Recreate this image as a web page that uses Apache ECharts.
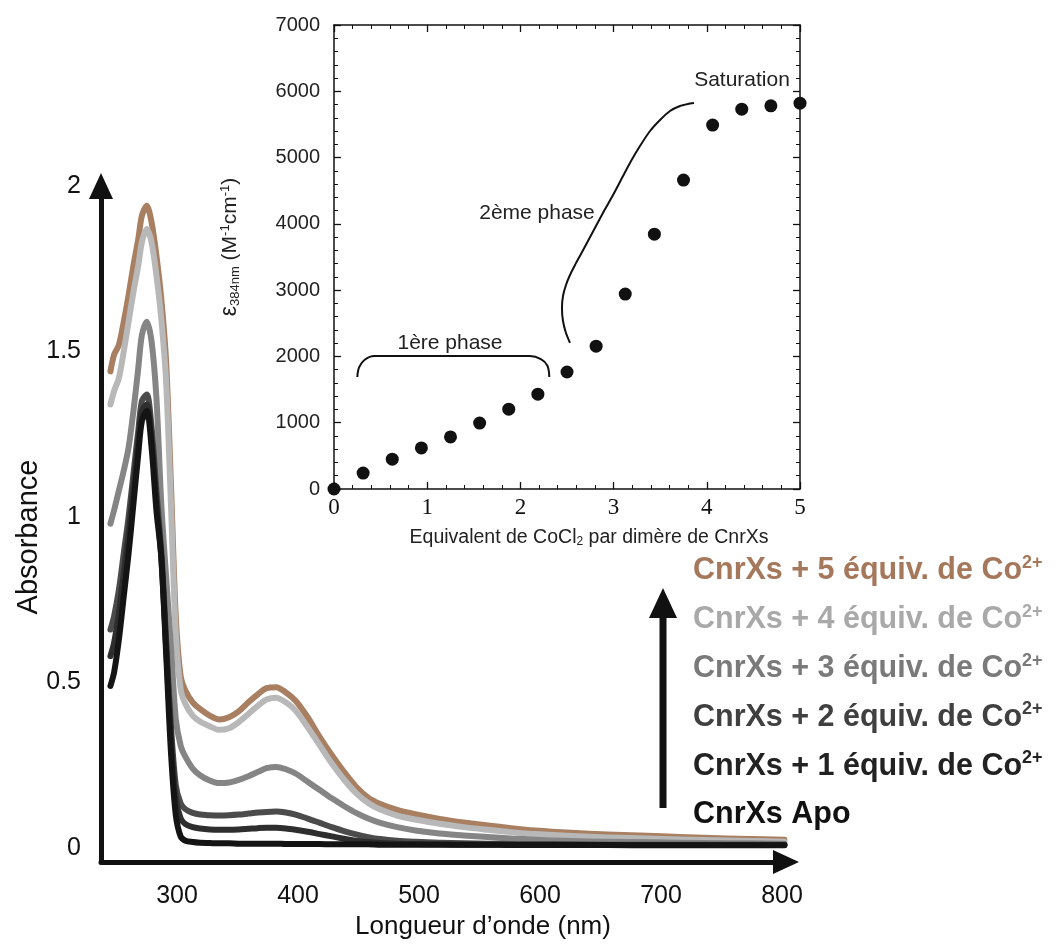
<!DOCTYPE html>
<html><head><meta charset="utf-8">
<script src="https://cdn.jsdelivr.net/npm/echarts@6/dist/echarts.min.js"></script>
<style>html,body{margin:0;padding:0;background:#fff}#c{width:1056px;height:947px}</style>
</head><body><div id="c"></div>
<script>
// ---------- Main spectra (absorbance vs wavelength, nm) ----------
const wavelengths = [245,248,252,256,260,264,268,271,275,279,283,287,291,295,299,303,307,313,319,327,335,343,351,359,367,374,382,390,398,408,418,428,438,448,458,468,482,497,517,537,557,576,596,626,656,695,735,774,802];
const absEq5 = [1.44,1.49,1.52,1.59,1.67,1.76,1.84,1.91,1.94,1.89,1.79,1.66,1.47,1.10,0.70,0.52,0.475,0.44,0.42,0.40,0.388,0.395,0.413,0.44,0.465,0.483,0.486,0.47,0.445,0.395,0.335,0.28,0.23,0.185,0.152,0.133,0.115,0.102,0.088,0.077,0.068,0.06,0.053,0.046,0.041,0.036,0.031,0.027,0.025];
const absEq4 = [1.34,1.38,1.42,1.50,1.59,1.68,1.76,1.83,1.87,1.83,1.73,1.60,1.41,1.04,0.65,0.48,0.435,0.40,0.382,0.368,0.357,0.362,0.38,0.405,0.43,0.449,0.454,0.44,0.415,0.365,0.31,0.255,0.207,0.166,0.136,0.116,0.098,0.086,0.073,0.063,0.055,0.048,0.042,0.036,0.032,0.028,0.024,0.021,0.019];
const absEq3 = [0.98,1.02,1.08,1.14,1.21,1.32,1.45,1.55,1.59,1.53,1.36,1.04,0.82,0.61,0.39,0.31,0.275,0.24,0.22,0.204,0.196,0.198,0.206,0.217,0.23,0.241,0.245,0.238,0.225,0.2,0.175,0.15,0.127,0.106,0.089,0.076,0.063,0.053,0.044,0.038,0.033,0.029,0.025,0.021,0.019,0.017,0.015,0.014,0.013];
const absEq2 = [0.66,0.70,0.78,0.89,1.00,1.13,1.26,1.35,1.37,1.27,1.08,0.90,0.63,0.37,0.19,0.135,0.117,0.106,0.101,0.099,0.098,0.099,0.101,0.104,0.107,0.109,0.11,0.107,0.101,0.089,0.076,0.063,0.051,0.041,0.033,0.027,0.022,0.019,0.016,0.014,0.013,0.012,0.011,0.011,0.01,0.01,0.01,0.01,0.01];
const absEq1 = [0.58,0.62,0.71,0.83,0.95,1.09,1.23,1.32,1.34,1.24,1.05,0.88,0.61,0.34,0.15,0.09,0.072,0.063,0.059,0.056,0.055,0.055,0.056,0.058,0.06,0.061,0.061,0.059,0.055,0.049,0.042,0.035,0.028,0.022,0.018,0.015,0.013,0.012,0.011,0.01,0.01,0.01,0.01,0.009,0.009,0.009,0.009,0.009,0.009];
const absApo = [0.49,0.53,0.63,0.76,0.89,1.04,1.19,1.29,1.32,1.21,1.02,0.88,0.59,0.29,0.10,0.035,0.022,0.018,0.016,0.015,0.014,0.014,0.013,0.013,0.013,0.013,0.013,0.012,0.012,0.012,0.012,0.011,0.011,0.011,0.011,0.01,0.01,0.01,0.01,0.01,0.01,0.009,0.009,0.009,0.009,0.008,0.008,0.008,0.008];
const legendBase = ['CnrXs + 5 équiv. de Co','CnrXs + 4 équiv. de Co','CnrXs + 3 équiv. de Co','CnrXs + 2 équiv. de Co','CnrXs + 1 équiv. de Co','CnrXs Apo'];
const legendSup = ['2+','2+','2+','2+','2+',''];
const mainXTicks = [300,400,500,600,700,800];
const mainYTicks = [0,0.5,1,1.5,2];

// ---------- Inset: epsilon(384 nm) vs CoCl2 equivalents ----------
const equivalents = [0,0.3125,0.625,0.9375,1.25,1.5625,1.875,2.1875,2.5,2.8125,3.125,3.4375,3.75,4.0625,4.375,4.6875,5];
const epsilon384 = [0,240,450,620,785,995,1205,1430,1765,2155,2940,3845,4660,5490,5730,5780,5820];
const phase1Bracket = [[0.25,1690],[0.27,1840],[0.33,1950],[0.43,2005],[1.2,2005],[2.1,2005],[2.22,1960],[2.29,1860],[2.31,1690]];
const phase2Curve = [[2.532,2203],[2.489,2353],[2.457,2534],[2.446,2731],[2.457,2912],[2.489,3078],[2.532,3228],[2.586,3379],[2.65,3545],[2.725,3741],[2.811,3968],[2.897,4194],[2.994,4435],[3.09,4692],[3.187,4948],[3.283,5175],[3.391,5401],[3.498,5567],[3.605,5703],[3.712,5778],[3.798,5808],[3.863,5823]];

const FONT = '"Liberation Sans", Arial, Helvetica, sans-serif';
const SERIF = '"Liberation Serif", "Times New Roman", serif';
const seriesColors = ['#a97f62','#b8b8b8','#858585','#4b4b4b','#2e2e2e','#141414'];
const legendColors = ['#a5785b','#a9a9a9','#7a7a7a','#404040','#222222','#111111'];
const absSets = [absEq5, absEq4, absEq3, absEq2, absEq1, absApo];

const chart = echarts.init(document.getElementById('c'));

const lineSeries = absSets.map((arr, i) => ({
  type: 'line',
  name: legendBase[i] + legendSup[i],
  xAxisIndex: 0, yAxisIndex: 0,
  data: wavelengths.map((w, j) => [w, arr[j]]),
  showSymbol: false,
  smooth: 0.3,
  lineStyle: {color: seriesColors[i], width: 6, cap: 'round', join: 'round'},
  z: 2 + i
}));

const insetAxisCommon = {
  gridIndex: 1, type: 'value',
  axisLine: {onZero: false, lineStyle: {color: '#111', width: 1.5}},
  axisTick: {inside: true, length: 7, lineStyle: {color: '#111', width: 1.3}},
  minorTick: {show: true, splitNumber: 5, length: 4, lineStyle: {color: '#111', width: 1}},
  splitLine: {show: false}
};

const legendGraphics = legendBase.map((t, i) => ({
  type: 'text',
  x: 693, y: 571 + i * 48.8,
  style: {
    text: '{m|' + t + '}' + (legendSup[i] ? '{s|' + legendSup[i] + '}' : ''),
    verticalAlign: 'middle', align: 'left',
    rich: {
      m: {fontSize: 30.5, fontWeight: 'bold', fontFamily: FONT, fill: legendColors[i], lineHeight: 34},
      s: {fontSize: 18, fontWeight: 'bold', fontFamily: FONT, fill: legendColors[i], lineHeight: 20, verticalAlign: 'top'}
    }
  }
}));

const option = {
  animation: false,
  backgroundColor: '#ffffff',
  grid: [
    {left: 101, top: 186, width: 685, height: 676},
    {left: 334, top: 25, width: 466, height: 464}
  ],
  xAxis: [
    {gridIndex: 0, type: 'value', min: 237.2, max: 803.3,
     axisLine: {onZero: false, lineStyle: {color: '#111', width: 5}, symbol: ['none', 'triangle'], symbolSize: [24, 26]},
     axisTick: {show: false}, splitLine: {show: false},
     axisLabel: {customValues: mainXTicks, fontSize: 25, color: '#111', margin: 22, fontFamily: FONT}},
    Object.assign({}, insetAxisCommon, {position: 'bottom', min: 0, max: 5, interval: 1,
     axisLabel: {fontSize: 23, color: '#111', margin: 7, fontFamily: SERIF}}),
    Object.assign({}, insetAxisCommon, {position: 'top', min: 0, max: 5, interval: 1, axisLabel: {show: false}})
  ],
  yAxis: [
    {gridIndex: 0, type: 'value', min: -0.0423, max: 2,
     axisLine: {onZero: false, lineStyle: {color: '#111', width: 5}, symbol: ['none', 'triangle'], symbolSize: [24, 26]},
     axisTick: {show: false}, splitLine: {show: false},
     axisLabel: {customValues: mainYTicks, fontSize: 25, color: '#111', margin: 20, fontFamily: FONT}},
    Object.assign({}, insetAxisCommon, {position: 'left', min: 0, max: 7000, interval: 1000,
     axisLabel: {fontSize: 20, color: '#222', margin: 14, fontFamily: FONT, formatter: v => String(v)}}),
    Object.assign({}, insetAxisCommon, {position: 'right', min: 0, max: 7000, interval: 1000, axisLabel: {show: false}})
  ],
  series: lineSeries.concat([
    {type: 'scatter', xAxisIndex: 1, yAxisIndex: 1,
     data: equivalents.map((e, i) => [e, epsilon384[i]]),
     symbol: 'circle', symbolSize: 13, itemStyle: {color: '#111', opacity: 1}, z: 10, clip: false},
    {type: 'line', xAxisIndex: 1, yAxisIndex: 1, data: phase1Bracket, showSymbol: false, smooth: 0.35,
     lineStyle: {color: '#111', width: 2}, z: 9},
    {type: 'line', xAxisIndex: 1, yAxisIndex: 1, data: phase2Curve, showSymbol: false, smooth: 0.2,
     lineStyle: {color: '#111', width: 2}, z: 9}
  ]),
  graphic: [
    {type: 'text', x: 29, y: 537, rotation: Math.PI / 2,
     style: {text: 'Absorbance', fontSize: 29, fontFamily: FONT, fill: '#111', align: 'center', verticalAlign: 'middle'}},
    {type: 'text', x: 483, y: 927,
     style: {text: 'Longueur d\u2019onde (nm)', fontSize: 26, fontFamily: FONT, fill: '#111', align: 'center', verticalAlign: 'middle'}},
    {type: 'text', x: 589, y: 538,
     style: {text: 'Equivalent de CoCl{sub|2} par dimère de CnrXs', fontSize: 19.5, fontFamily: FONT, fill: '#222', align: 'center', verticalAlign: 'middle',
       rich: {sub: {fontSize: 12, fontFamily: FONT, fill: '#222', verticalAlign: 'bottom', lineHeight: 10}}}},
    {type: 'text', x: 230, y: 247, rotation: Math.PI / 2,
     style: {text: '{e|ε}{sub|384nm} (M{sup|-1}cm{sup|-1})', fontSize: 21, fontFamily: FONT, fill: '#222', align: 'center', verticalAlign: 'middle',
       rich: {e: {fontSize: 23, fontFamily: FONT, fill: '#222'},
              sub: {fontSize: 13, fontFamily: FONT, fill: '#222', verticalAlign: 'bottom', lineHeight: 12},
              sup: {fontSize: 13, fontFamily: FONT, fill: '#222', verticalAlign: 'top', lineHeight: 12}}}},
    {type: 'text', x: 450, y: 343,
     style: {text: '1ère phase', fontSize: 21, fontFamily: FONT, fill: '#222', align: 'center', verticalAlign: 'middle'}},
    {type: 'text', x: 537, y: 213,
     style: {text: '2ème phase', fontSize: 21, fontFamily: FONT, fill: '#222', align: 'center', verticalAlign: 'middle'}},
    {type: 'text', x: 742, y: 80,
     style: {text: 'Saturation', fontSize: 21, fontFamily: FONT, fill: '#222', align: 'center', verticalAlign: 'middle'}},
    {type: 'rect', shape: {x: 659.5, y: 610, width: 7, height: 198}, style: {fill: '#111'}},
    {type: 'polygon', shape: {points: [[663, 588], [649, 618], [677, 618]]}, style: {fill: '#111'}}
  ].concat(legendGraphics)
};
chart.setOption(option);
</script>
</body></html>
